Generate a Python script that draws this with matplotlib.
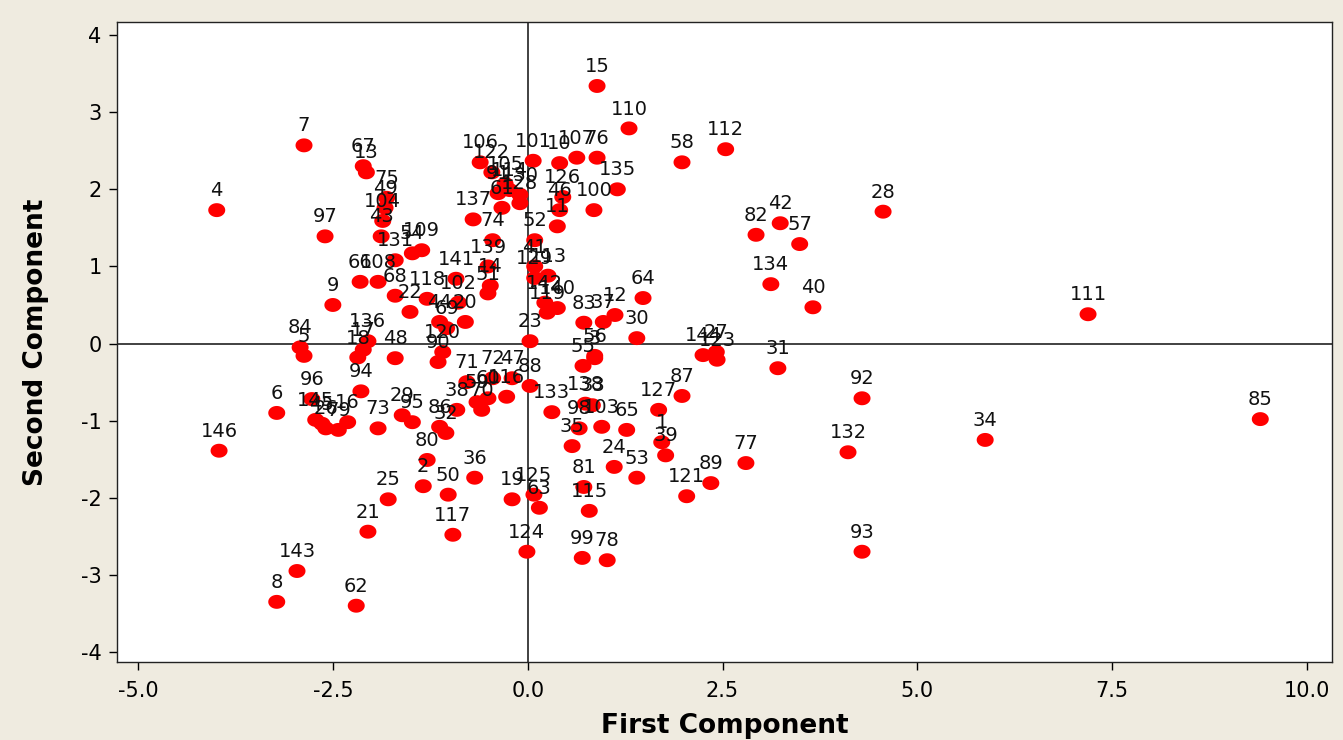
import matplotlib
matplotlib.use("Agg")
import matplotlib.pyplot as plt
import numpy as np
from matplotlib.path import Path

plt.rcParams['axes.unicode_minus'] = False

labels = list(range(1, 147))

pc1 = [1.72, -1.34, 0.86, -3.99, -2.87, -3.22, -2.87, -3.22, -2.50, 0.41,
       0.38, 1.12, -2.07, -0.48, 0.89, -2.31, -2.11, -2.18, -0.20, -0.80,
       -2.05, -1.51, 0.03, 1.11, -1.79, -2.59, 2.42, 4.56, -1.61, 1.40,
       3.21, -1.05, 0.83, 5.87, 0.57, -0.68, 0.97, -0.91, 1.77, 3.66,
       0.09, 3.24, -1.88, -1.13, -2.64, 0.41, -0.20, -1.70, -1.83, -1.02,
       -0.51, 0.09, 1.40, -1.48, 0.71, 0.86, 3.49, 1.98, -0.65, -0.51,
       -0.33, -2.20, 0.15, 1.48, 1.27, -2.15, -2.11, -1.70, -1.04, -0.59,
       -0.78, -0.45, -1.92, -0.45, -1.81, 0.89, 2.80, 1.02, -2.43, -1.29,
       0.72, 2.93, 0.72, -2.92, 9.40, -1.13, 1.98, 0.03, 2.35, -1.15,
       -0.38, 4.29, 4.29, -2.14, -1.48, -2.77, -2.60, 0.66, 0.70, 0.85,
       0.07, -0.89, 0.95, -1.86, -0.29, -0.61, 0.63, -1.92, -1.36, 1.30,
       7.19, 2.54, 0.26, -0.23, 0.79, -0.27, -0.96, -1.29, 0.25, -1.09,
       2.04, -0.46, 2.43, -0.01, 0.08, 0.45, 1.68, -0.10, 0.09, -0.10,
       -1.70, 4.11, 0.31, 3.12, 1.15, -2.05, -0.70, 0.74, -0.51, 0.38,
       -0.92, 0.22, -2.96, 2.25, -2.72, -3.96]

pc2 = [-1.28, -1.85, -0.19, 1.73, -0.16, -0.90, 2.57, -3.35, 0.50, 2.34,
       1.52, 0.37, 2.22, 0.75, 3.34, -1.02, -0.08, -0.18, -2.02, 0.28,
       -2.44, 0.41, 0.03, -1.60, -2.02, -1.10, -0.11, 1.71, -0.93, 0.07,
       -0.32, -1.16, -0.80, -1.25, -1.33, -1.74, 0.28, -0.86, -1.45, 0.47,
       1.00, 1.56, 1.39, 0.28, -1.04, 1.73, -0.45, -0.19, 1.76, -1.96,
       0.65, 1.34, -1.74, 1.17, -0.29, -0.16, 1.29, 2.35, -0.76, -0.71,
       1.76, -3.40, -2.13, 0.59, -1.12, 0.80, 2.30, 0.62, 0.20, -0.86,
       -0.50, -0.45, -1.10, 1.34, 1.89, 2.41, -1.55, -2.81, -1.12, -1.51,
       -1.86, 1.41, 0.27, -0.05, -0.98, -1.08, -0.68, -0.55, -1.81, -0.24,
       1.95, -0.71, -2.70, -0.62, -1.02, -0.72, 1.39, -1.10, -2.78, 1.73,
       2.37, 0.53, -1.08, 1.59, 2.07, 2.35, 2.41, 0.80, 1.21, 2.79,
       0.38, 2.52, 0.88, 1.99, -2.17, -0.69, -2.48, 0.58, 0.40, -0.11,
       -1.98, 2.22, -0.21, -2.70, -1.96, 1.90, -0.86, 1.82, 0.85, 1.93,
       1.08, -1.41, -0.89, 0.77, 2.00, 0.03, 1.61, -0.78, 1.00, 0.46,
       0.84, 0.53, -2.95, -0.15, -0.99, -1.39]

xticks = [-5.0, -2.5, 0.0, 2.5, 5.0, 7.5, 10.0]
yticks = [-4, -3, -2, -1, 0, 1, 2, 3, 4]

# slightly flattened dot like the original
t = np.linspace(0, 2 * np.pi, 40)
dot = Path(np.column_stack([np.cos(t), 0.82 * np.sin(t)]))

fig = plt.figure(figsize=(13.43, 7.40), dpi=100)
fig.patch.set_facecolor('#efebe0')
ax = fig.add_axes([0.0871, 0.1054, 0.9047, 0.8649])
ax.set_facecolor('white')

ax.axhline(0, color='#333333', linewidth=1.3, zorder=0)
ax.axvline(0, color='#333333', linewidth=1.3, zorder=0)

ax.scatter(pc1, pc2, s=150, marker=dot, color='#ff0000', edgecolors='none', zorder=2)

for lab, x, y in zip(labels, pc1, pc2):
    ax.annotate(str(lab), (x, y), xytext=(0, 10), textcoords='offset points',
                ha='center', va='baseline', fontsize=14, color='#111111', zorder=3)

ax.set_xlim(-5.27, 10.32)
ax.set_ylim(-4.13, 4.17)
ax.set_xticks(xticks)
ax.set_xticklabels(['%.1f' % v for v in xticks])
ax.set_yticks(yticks)
ax.tick_params(direction='out', length=6, width=1, labelsize=15, top=False, right=False)
ax.tick_params(axis='x', pad=8)
ax.tick_params(axis='y', pad=5)

for s in ax.spines.values():
    s.set_color('#222222')
    s.set_linewidth(1)

ax.set_xlabel('First Component', fontsize=19, fontweight='bold', labelpad=8)
ax.set_ylabel('Second Component', fontsize=19, fontweight='bold', labelpad=23)

fig.savefig('out.png', dpi=100, facecolor=fig.get_facecolor())
